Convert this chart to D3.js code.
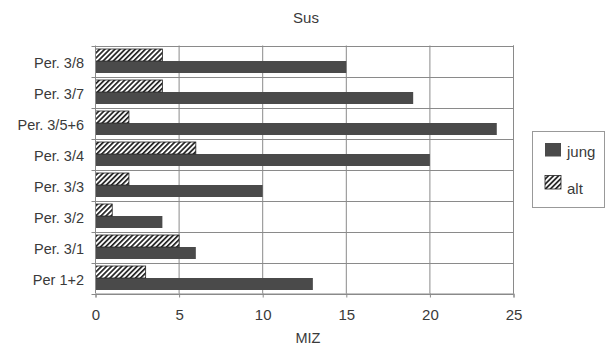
<!DOCTYPE html>
<html><head><meta charset="utf-8">
<script src="https://cdn.jsdelivr.net/npm/d3@7"></script>
<style>body{margin:0;background:#fff;}svg{display:block;font-family:"Liberation Sans",Arial,sans-serif;}</style>
</head><body><svg id="c" width="606" height="346"></svg>
<script>
const categories = ["Per. 3/8","Per. 3/7","Per. 3/5+6","Per. 3/4","Per. 3/3","Per. 3/2","Per. 3/1","Per 1+2"];
const jung = [15,19,24,20,10,4,6,13];
const alt = [4,4,2,6,2,1,5,3];
const xTicks = [0,5,10,15,20,25];
const seriesNames = ["jung","alt"];

const svg = d3.select("#c");
const m = {l:95.5, r:513.5, t:45.5, b:293.5};
const x = d3.scaleLinear().domain([0,25]).range([m.l, m.r]);
const y = d3.scaleBand().domain(categories).range([m.t, m.b]).paddingInner(0).paddingOuter(0);
const txt = "#3a3a3a", grid = "#8a8a8a", solid = "#4a4a4a";

const defs = svg.append("defs");
const pat = defs.append("pattern").attr("id","hatch").attr("patternUnits","userSpaceOnUse")
  .attr("width",3.6).attr("height",3.6).attr("patternTransform","rotate(45)");
pat.append("rect").attr("width",3.6).attr("height",3.6).attr("fill","#fff");
pat.append("rect").attr("x",0).attr("y",0).attr("width",1.7).attr("height",3.6).attr("fill","#222");

// title
svg.append("text").attr("x",306).attr("y",23).attr("text-anchor","middle").attr("font-size",15).attr("fill",txt).text("Sus");

// vertical grid
svg.append("g").selectAll("line").data(xTicks.slice(1)).join("line")
  .attr("x1",d=>x(d)).attr("x2",d=>x(d)).attr("y1",m.t).attr("y2",m.b).attr("stroke",grid).attr("stroke-width",1);
// horizontal category separators
const bounds = categories.map(c=>y(c)).concat([m.b]);
svg.append("g").selectAll("line").data(bounds).join("line")
  .attr("x1",m.l-4).attr("x2",m.r).attr("y1",d=>Math.round(d)+0.5).attr("y2",d=>Math.round(d)+0.5).attr("stroke",grid).attr("stroke-width",1);

// bars
const bw = 12, inner = (y.bandwidth()-2*bw)/2;
svg.append("g").selectAll("rect").data(categories).join("rect")
  .attr("x",m.l).attr("y",c=>y(c)+inner+bw).attr("width",(c,i)=>x(jung[i])-x(0)).attr("height",bw).attr("fill",solid);
svg.append("g").selectAll("rect").data(categories).join("rect")
  .attr("x",m.l).attr("y",c=>y(c)+inner).attr("width",(c,i)=>x(alt[i])-x(0)).attr("height",bw)
  .attr("fill","url(#hatch)").attr("stroke","#222").attr("stroke-width",0.8);

// axes
const xa = svg.append("g").attr("transform",`translate(0,${m.b})`).call(d3.axisBottom(x).tickValues(xTicks).tickSize(4).tickPadding(12));
xa.select(".domain").attr("stroke",grid);
xa.selectAll(".tick line").attr("stroke",grid);
xa.selectAll("text").attr("font-size",15).attr("fill",txt).attr("font-family","Liberation Sans, Arial, sans-serif");
svg.append("line").attr("x1",m.l).attr("x2",m.l).attr("y1",m.t).attr("y2",m.b).attr("stroke",grid);
svg.append("line").attr("x1",m.r).attr("x2",m.r).attr("y1",m.t).attr("y2",m.b).attr("stroke",grid);

svg.append("g").selectAll("text").data(categories).join("text")
  .attr("x",84).attr("y",c=>y(c)+y.bandwidth()/2+6.5).attr("text-anchor","end")
  .attr("font-size",14.5).attr("fill",txt).text(d=>d);

svg.append("text").attr("x",308).attr("y",343).attr("text-anchor","middle").attr("font-size",14.5).attr("fill",txt).text("MIZ");

// legend
const lg = svg.append("g");
lg.append("rect").attr("x",532.5).attr("y",131.5).attr("width",72).attr("height",76).attr("fill","#fff").attr("stroke","#999");
const items = [{n:seriesNames[0],f:solid,s:"none"},{n:seriesNames[1],f:"url(#hatch)",s:"#222"}];
items.forEach((it,i)=>{
  const yy = 143 + i*32.5;
  lg.append("rect").attr("x",545).attr("y",yy).attr("width",16).attr("height",13.5).attr("fill",it.f).attr("stroke",it.s).attr("stroke-width",0.8);
  lg.append("text").attr("x",567).attr("y",yy+14 + i*4).attr("font-size",15).attr("fill",txt).text(it.n);
});
</script></body></html>
